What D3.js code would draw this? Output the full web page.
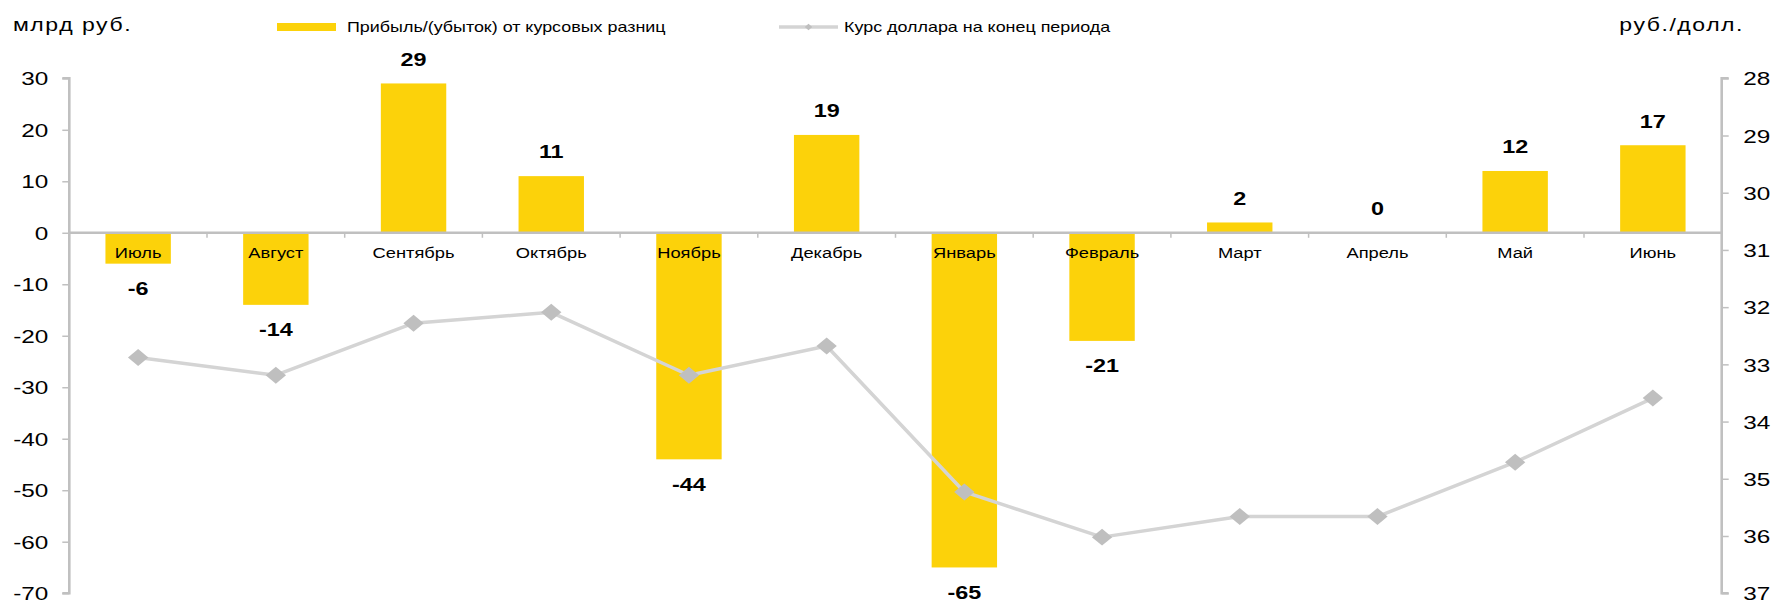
<!DOCTYPE html>
<html><head><meta charset="utf-8">
<script src="https://cdn.jsdelivr.net/npm/d3@7"></script>
<style>body{margin:0;background:#fff}svg{display:block}text{font-family:"Liberation Sans",Arial,sans-serif;fill:#000}</style>
</head><body><svg id="c" width="1776" height="602"></svg>
<script>
const categories = ["Июль","Август","Сентябрь","Октябрь","Ноябрь","Декабрь","Январь","Февраль","Март","Апрель","Май","Июнь"];
const profitValues = [-6,-14,29,11,-44,19,-65,-21,2,0,12,17];
const rateValues = [32.88,33.19,32.28,32.09,33.19,32.68,35.23,36.02,35.66,35.66,34.71,33.59];
const leftTicks = [30,20,10,0,-10,-20,-30,-40,-50,-60,-70];
const rightTicks = [28,29,30,31,32,33,34,35,36,37];
const seriesNames = ["Прибыль/(убыток) от курсовых разниц","Курс доллара на конец периода"];
const leftUnit = "млрд руб.", rightUnit = "руб./долл.";

const S = 1.28; // horizontal text stretch
const BAR = "#FCD20A", LINE = "#D4D4D4", MARK = "#BFBFBF", AX = "#C0C0C0";
const fmt = d => String(d); // plain hyphen-minus as in the reference
const svg = d3.select("#c");
const L = 69.3, R = 1721.7, T = 78.3, B = 593.2;

const x = d3.scaleBand().domain(categories).range([L, R]).paddingInner(0.525).paddingOuter(0.2625);
const yL = d3.scaleLinear().domain([-70, 30]).range([B, T]);
const yR = d3.scaleLinear().domain([28, 37]).range([T, B]);
const cx = c => x(c) + x.bandwidth() / 2;

function st(sel, tx, ty, s) { return sel.attr("x", 0).attr("y", 0).attr("transform", `translate(${tx},${ty}) scale(${s||S},1)`); }

// bars
svg.append("g").selectAll("rect").data(profitValues).join("rect")
  .attr("x", (d, i) => x(categories[i]))
  .attr("width", x.bandwidth())
  .attr("y", d => yL(Math.max(0, d)))
  .attr("height", d => Math.abs(yL(d) - yL(0)))
  .attr("fill", BAR);

// left axis
const gl = svg.append("g").attr("transform", `translate(${L},0)`)
  .call(d3.axisLeft(yL).tickValues(leftTicks).tickSize(7).tickFormat(fmt));
gl.select(".domain").attr("stroke", AX).attr("stroke-width", 2.6).attr("d", `M-7,${T}H0V${B}H-7`);
gl.selectAll(".tick line").attr("stroke", AX).attr("stroke-width", 1.5);
gl.selectAll(".tick text").each(function () {
  d3.select(this).attr("x", 0).attr("dy", "0.35em").attr("text-anchor", "end")
    .attr("transform", `translate(-21,0) scale(${S},1)`);
}).attr("font-size", 19).attr("fill", "#000");

// right axis
const gr = svg.append("g").attr("transform", `translate(${R},0)`)
  .call(d3.axisRight(yR).tickValues(rightTicks).tickSize(7).tickFormat(fmt));
gr.select(".domain").attr("stroke", AX).attr("stroke-width", 2.6).attr("d", `M7,${T}H0V${B}H7`);
gr.selectAll(".tick line").attr("stroke", AX).attr("stroke-width", 1.5);
gr.selectAll(".tick text").each(function () {
  d3.select(this).attr("x", 0).attr("dy", "0.35em").attr("text-anchor", "start")
    .attr("transform", `translate(21.5,0) scale(${S},1)`);
}).attr("font-size", 19).attr("fill", "#000");

// zero line with category ticks
const gx = svg.append("g").attr("transform", `translate(0,${yL(0)})`)
  .call(d3.axisBottom(x).tickSize(0).tickFormat(""));
gx.select(".domain").attr("stroke", AX).attr("stroke-width", 2.6).attr("d", `M${L},0H${R}`);
gx.selectAll(".tick").remove();
svg.append("g").selectAll("line").data(categories.slice(1)).join("line")
  .attr("x1", d => x(d) - x.step() * x.paddingInner() / 2)
  .attr("x2", d => x(d) - x.step() * x.paddingInner() / 2)
  .attr("y1", yL(0)).attr("y2", yL(0) + 5)
  .attr("stroke", AX).attr("stroke-width", 1.5);

// category labels
svg.append("g").selectAll("text").data(categories).join("text")
  .each(function (d) { st(d3.select(this), cx(d), yL(0) + 20, 1.22); })
  .attr("text-anchor", "middle").attr("dy", "0.35em").attr("font-size", 15)
  .text(d => d);

// line
const line = d3.line().x((d, i) => cx(categories[i])).y(d => yR(d));
svg.append("path").datum(rateValues).attr("d", line)
  .attr("fill", "none").attr("stroke", LINE).attr("stroke-width", 3.5).attr("stroke-linejoin", "round");
const diamond = d3.symbol(d3.symbolSquare, 144);
svg.append("g").selectAll("path").data(rateValues).join("path")
  .attr("d", diamond)
  .attr("transform", (d, i) => `translate(${cx(categories[i])},${yR(d)}) scale(1.2,1) rotate(45)`)
  .attr("fill", MARK);

// data labels
svg.append("g").selectAll("text").data(profitValues).join("text")
  .each(function (d, i) { st(d3.select(this), cx(categories[i]), d >= 0 ? yL(d) - 24 : yL(d) + 25, 1.3); })
  .attr("text-anchor", "middle").attr("dy", "0.35em").attr("font-size", 18).attr("font-weight", "bold")
  .text(fmt);

// units
st(svg.append("text"), 13, 25).attr("dy", "0.35em").attr("font-size", 18).attr("letter-spacing", 1.2).text(leftUnit);
st(svg.append("text"), 1744, 25).attr("dy", "0.35em").attr("font-size", 18).attr("letter-spacing", 1.2)
  .attr("text-anchor", "end").text(rightUnit);

// legend
svg.append("rect").attr("x", 277).attr("y", 23).attr("width", 59).attr("height", 8).attr("fill", BAR);
st(svg.append("text"), 347, 27).attr("dy", "0.35em").attr("font-size", 14).text(seriesNames[0]);
svg.append("line").attr("x1", 779).attr("x2", 838).attr("y1", 27).attr("y2", 27)
  .attr("stroke", LINE).attr("stroke-width", 3.5);
svg.append("path").attr("d", d3.symbol(d3.symbolSquare, 20))
  .attr("transform", "translate(808.5,27) scale(1.2,1) rotate(45)").attr("fill", MARK);
st(svg.append("text"), 844, 27).attr("dy", "0.35em").attr("font-size", 14).text(seriesNames[1]);
</script></body></html>
